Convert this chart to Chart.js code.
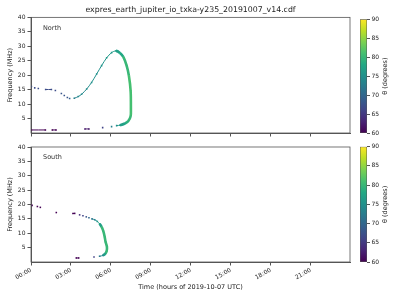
<!DOCTYPE html>
<html>
<head>
<meta charset="utf-8">
<script src="https://cdn.jsdelivr.net/npm/chart.js@4.4.1/dist/chart.umd.min.js"></script>
<style>
  body { margin: 0; background: #fff; }
  #wrap { position: relative; width: 400px; height: 300px; }
  canvas { position: absolute; }
</style>
</head>
<body>
<div id="wrap">
  <canvas id="north" width="360" height="140" style="left:0;top:0;width:360px;height:140px"></canvas>
  <canvas id="south" width="360" height="160" style="left:0;top:140px;width:360px;height:160px"></canvas>
  <canvas id="cbNorth" width="40" height="140" style="left:360px;top:0;width:40px;height:140px"></canvas>
  <canvas id="cbSouth" width="40" height="160" style="left:360px;top:140px;width:40px;height:160px"></canvas>
</div>
<script>
// hours of day, tick marks
const xTickValues = [0, 3, 6, 9, 12, 15, 18, 21];
const yTickValues = [5, 10, 15, 20, 25, 30, 35, 40];
const thetaTicks = [60, 65, 70, 75, 80, 85, 90];

// North hemisphere emission (null = break in the track)
const northTime  = [0.03, null, 0.28, null, 0.55, null, 1.1, 1.53, null, 1.83, null, 2.28, null, 2.5, null, 2.73, null, 2.9, null,
  3.25, 3.55, 3.8, 4.18, 4.55, 4.93, 5.3, 5.68, 6.05, 6.38, 6.68, 6.93, 7.18, 7.35, 7.48, 7.5, 7.48, 7.3, 7.05, 6.68, 6.43, null,
  6.05, null, 5.38, null, 4.05, 4.35, null, 1.6, 1.88, null, 0.03, 1.08];
const northFreq  = [16.1, null, 15.6, null, 15.4, null, 15.05, 15.05, null, 14.7, null, 13.65, null, 12.95, null, 12.25, null, 11.9, null,
  12.0, 12.6, 13.4, 15.2, 17.5, 20.4, 23.3, 26.0, 27.8, 28.4, 27.7, 26.3, 23.3, 19.8, 14.6, 8.2, 5.8, 4.1, 3.3, 2.7, 2.55, null,
  2.2, null, 1.85, null, 1.4, 1.4, null, 1.05, 1.05, null, 1.05, 1.05];
const northTheta = [67, null, 67, null, 67, null, 67, 67, null, 67, null, 68, null, 68, null, 68, null, 69, null,
  73, 74, 74, 74.5, 75, 75, 75.5, 76, 76, 77, 78, 80, 80, 81, 81, 81, 80, 79, 77, 76, 75, null,
  73, null, 66, null, 62, 62, null, 60, 60, null, 60, 60];

// South hemisphere emission
const southTime  = [0.08, null, 0.48, null, 0.7, null, 1.9, null, 3.15, 3.28, null, 3.65, null, 3.9, null, 4.15, null, 4.35, null,
  4.58, 4.78, 4.98, 5.15, 5.3, 5.43, 5.53, 5.6, 5.7, 5.68, 5.58, 5.4, 5.15, null, 4.73, null, 3.4, 3.58];
const southFreq  = [19.7, null, 19.3, null, 19.0, null, 17.2, null, 16.9, 16.9, null, 16.4, null, 16.1, null, 15.7, null, 15.4, null,
  15.0, 14.7, 14.1, 13.3, 12.2, 10.75, 8.8, 7.0, 5.3, 3.8, 2.9, 2.3, 2.0, null, 1.75, null, 1.4, 1.4];
const southTheta = [60, null, 60, null, 60, null, 60, null, 60, 60, null, 64, null, 66, null, 68, null, 70, null,
  72, 74, 76, 77, 80, 80, 80, 80, 80, 80, 77, 74, 72, null, 66, null, 60, 60];

Chart.defaults.font.family = '"DejaVu Sans", sans-serif';
Chart.defaults.font.size = 6;
Chart.defaults.color = '#222';

const VIRIDIS = ['#440154', '#482475', '#414487', '#355f8d', '#2a788e', '#21918c', '#22a884', '#44bf70', '#7ad151', '#bddf26', '#fde725'];

function viridis(theta) {
  if (theta == null) return 'rgba(0,0,0,0)';
  let t = Math.min(1, Math.max(0, (theta - 60) / 30)) * 10;
  const i = Math.min(9, Math.floor(t));
  const f = t - i;
  const a = VIRIDIS[i], b = VIRIDIS[i + 1];
  const ch = k => Math.round(parseInt(a.substr(k, 2), 16) * (1 - f) + parseInt(b.substr(k, 2), 16) * f);
  return `rgb(${ch(1)},${ch(3)},${ch(5)})`;
}

const hh = v => String(v).padStart(2, '0') + ':00';

const framePlugin = {
  id: 'frame',
  afterDraw(chart, args, opts) {
    const { ctx, chartArea: a } = chart;
    ctx.save();
    ctx.strokeStyle = '#555';
    ctx.lineWidth = 0.8;
    ctx.strokeRect(a.left, a.top, a.right - a.left, a.bottom - a.top);
    ctx.fillStyle = '#333';
    ctx.font = '6.5px "DejaVu Sans"';
    ctx.textBaseline = 'middle';
    ctx.fillText(opts.text, a.left + 12, a.top + 10.5);
    ctx.restore();
  }
};

function panel(id, label, times, freqs, thetas, bottom) {
  new Chart(document.getElementById(id), {
    type: 'scatter',
    data: {
      datasets: [{
        data: times.map((t, i) => ({ x: t, y: freqs[i] })),
        showLine: true,
        spanGaps: false,
        tension: 0.3,
        pointStyle: 'rect',
        pointRadius: 1.1,
        pointBorderWidth: 0,
        pointBackgroundColor: thetas.map(v => viridis(v)),
        segment: {
          borderColor: c => viridis(thetas[c.p0DataIndex]),
          borderWidth: c => thetas[c.p0DataIndex] >= 77 ? 2.6 : 1
        }
      }]
    },
    options: {
      responsive: false,
      animation: false,
      layout: { padding: { left: 0, right: 10, top: bottom ? 7 : 0, bottom: 0 } },
      plugins: {
        legend: { display: false },
        tooltip: { enabled: false },
        title: {
          display: !bottom,
          text: 'expres_earth_jupiter_io_txka-y235_20191007_v14.cdf',
          fullSize: false,
          font: { size: 7.8, weight: 'normal' },
          padding: { top: 5, bottom: 3 }
        },
        frame: { text: label }
      },
      scales: {
        x: {
          type: 'linear',
          min: 0,
          max: 23.95,
          afterBuildTicks: s => { s.ticks = xTickValues.map(v => ({ value: v })); },
          afterFit: s => { s.height = bottom ? 38 : 7; },
          ticks: { display: bottom, autoSkip: false, minRotation: 30, maxRotation: 30, padding: 1, callback: v => hh(v) },
          grid: { drawOnChartArea: false, drawTicks: true, tickLength: 3.5, color: '#555' },
          border: { display: true, color: '#555' },
          title: { display: bottom, text: 'Time (hours of 2019-10-07 UTC)', font: { size: 6.5 }, padding: { top: 2, bottom: 9 } }
        },
        y: {
          min: 0,
          max: 40,
          afterBuildTicks: s => { s.ticks = yTickValues.map(v => ({ value: v })); },
          afterFit: s => { s.width = 31; },
          ticks: { padding: 2 },
          grid: { drawOnChartArea: false, drawTicks: true, tickLength: 3.5, color: '#555' },
          border: { display: true, color: '#555' },
          title: { display: true, text: 'Frequency (MHz)', font: { size: 6.5 }, padding: { top: 6, bottom: 0 } }
        }
      }
    },
    plugins: [framePlugin]
  });
}

const cbLabelPlugin = {
  id: 'cbLabel',
  afterDraw(chart, args, opts) {
    const { ctx, chartArea: a } = chart;
    ctx.save();
    ctx.translate(chart.width - 14.3, (a.top + a.bottom) / 2);
    ctx.rotate(-Math.PI / 2);
    ctx.fillStyle = '#222';
    ctx.font = '6.5px "DejaVu Sans"';
    ctx.textAlign = 'center';
    ctx.textBaseline = 'middle';
    ctx.fillText(opts.text, 0, 0);
    ctx.restore();
  }
};

function viridisGradient(chart) {
  const a = chart.chartArea;
  if (!a) return null;
  const g = chart.ctx.createLinearGradient(0, a.bottom, 0, a.top);
  VIRIDIS.forEach((c, i) => g.addColorStop(i / 10, c));
  return g;
}

function colorbar(id, padTop, padBottom) {
  new Chart(document.getElementById(id), {
    type: 'bar',
    data: {
      labels: ['theta'],
      datasets: [{
        data: [[thetaTicks[0], thetaTicks[thetaTicks.length - 1]]],
        backgroundColor: c => viridisGradient(c.chart),
        borderColor: '#555',
        borderWidth: 0.8,
        borderSkipped: false,
        barPercentage: 1,
        categoryPercentage: 1
      }]
    },
    options: {
      responsive: false,
      animation: false,
      layout: { padding: { left: 0, right: 0, top: padTop, bottom: padBottom } },
      plugins: {
        legend: { display: false },
        tooltip: { enabled: false },
        cbLabel: { text: 'θ (degrees)' }
      },
      scales: {
        x: { display: false },
        y: {
          position: 'right',
          min: 60,
          max: 90,
          afterBuildTicks: s => { s.ticks = thetaTicks.map(v => ({ value: v })); },
          afterFit: s => { s.width = 33; },
          ticks: { padding: 1.5 },
          grid: { drawOnChartArea: false, tickLength: 3, color: '#555' },
          border: { display: false }
        }
      }
    },
    plugins: [cbLabelPlugin]
  });
}

panel('north', 'North', northTime, northFreq, northTheta, false);
panel('south', 'South', southTime, southFreq, southTheta, true);
colorbar('cbNorth', 19.3, 7);
colorbar('cbSouth', 6.7, 38);
</script>
</body>
</html>
